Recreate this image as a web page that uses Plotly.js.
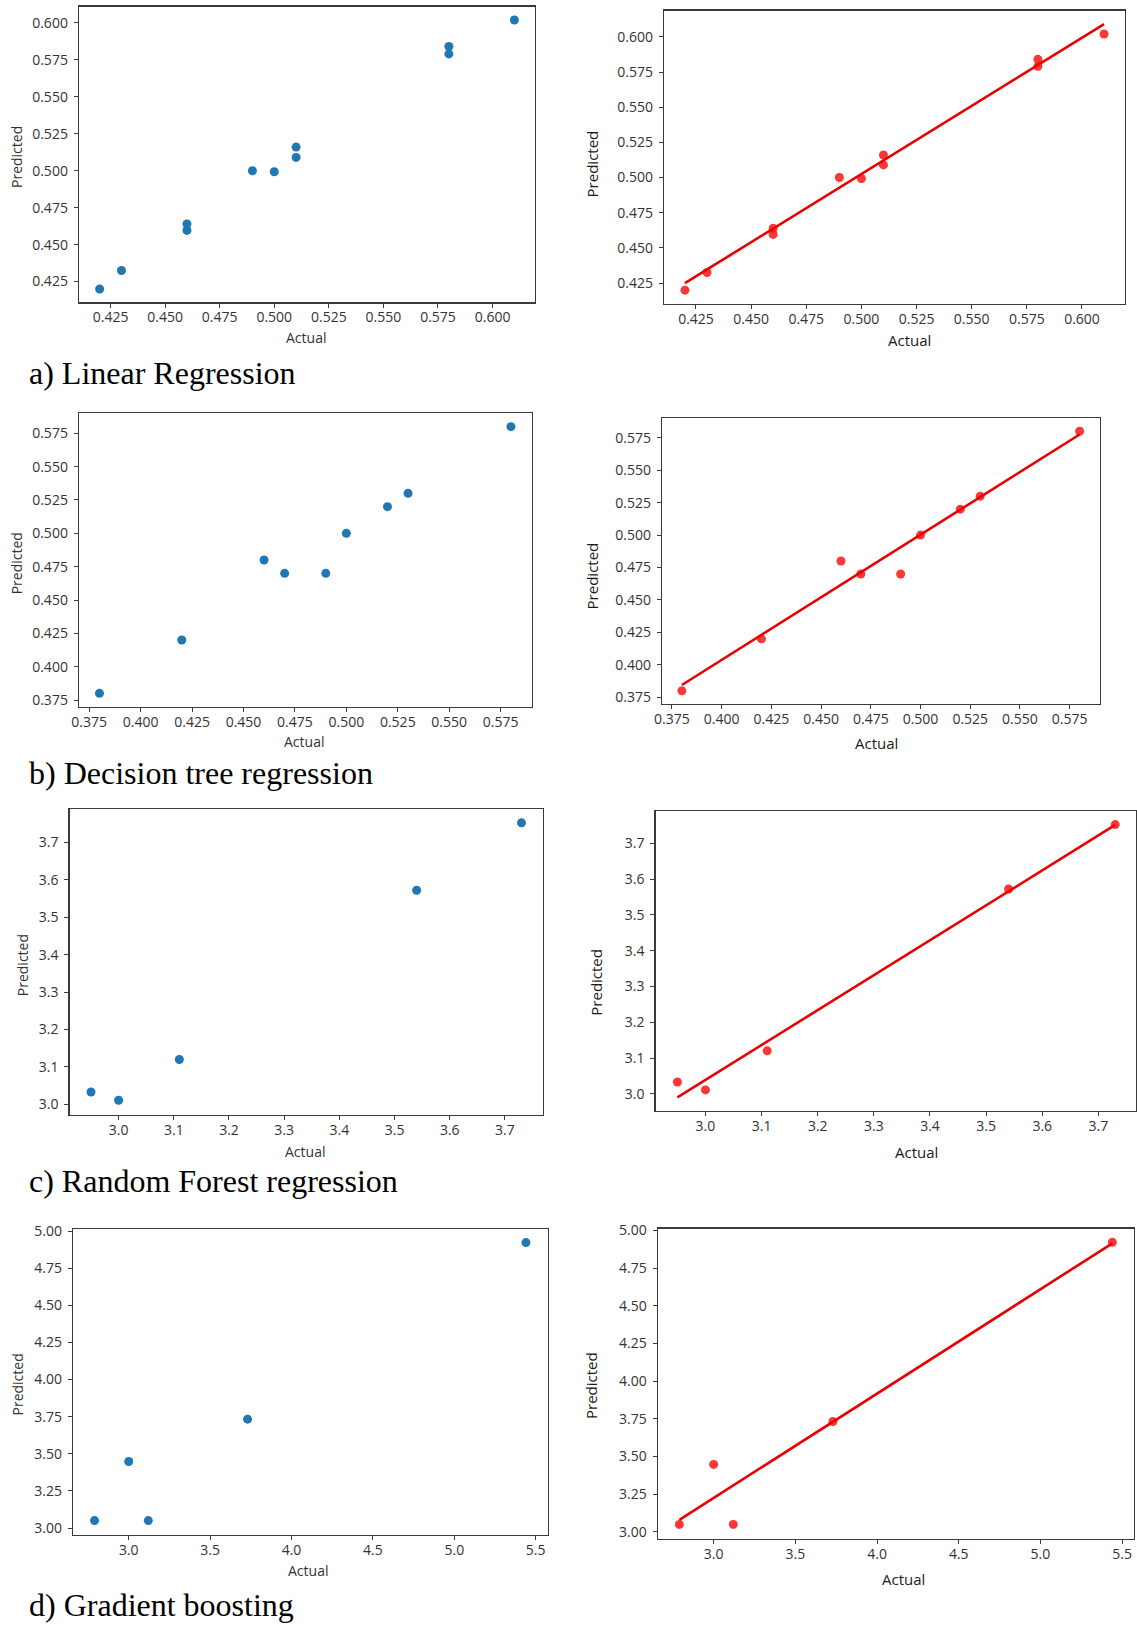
<!DOCTYPE html>
<html>
<head>
<meta charset="utf-8">
<script src="https://cdn.plot.ly/plotly-3.0.1.min.js"></script>
<style>
  html, body { margin: 0; padding: 0; background: #ffffff; }
  #chart { width: 1137px; height: 1627px; }
</style>
</head>
<body>
<div id="chart"></div>
<script>
// ---------------- DATA ----------------
const captions = ["a) Linear Regression", "b) Decision tree regression", "c) Random Forest regression", "d) Gradient boosting"];
const xLabel = "Actual";
const yLabel = "Predicted";

// a) Linear Regression
const lrActual = [0.42, 0.43, 0.46, 0.46, 0.49, 0.50, 0.51, 0.51, 0.58, 0.58, 0.61];
const lrPred   = [0.420, 0.4325, 0.464, 0.4596, 0.500, 0.4993, 0.516, 0.509, 0.584, 0.579, 0.602];
const lrFitX   = [0.42, 0.61];
const lrFitY   = [0.425, 0.609];

// b) Decision tree regression
const dtActual = [0.38, 0.42, 0.46, 0.47, 0.49, 0.50, 0.52, 0.53, 0.58];
const dtPred   = [0.38, 0.42, 0.48, 0.47, 0.47, 0.50, 0.52, 0.53, 0.58];
const dtFitX   = [0.38, 0.58];
const dtFitY   = [0.3845, 0.5775];

// c) Random Forest regression
const rfActual = [2.95, 3.00, 3.11, 3.54, 3.73];
const rfPred   = [3.033, 3.011, 3.12, 3.572, 3.752];
const rfFitX   = [2.95, 3.73];
const rfFitY   = [2.99, 3.751];

// d) Gradient boosting
const gbActual = [2.79, 3.00, 3.12, 3.73, 5.44];
const gbPred   = [3.05, 3.448, 3.05, 3.733, 4.922];
const gbFitX   = [2.79, 5.44];
const gbFitY   = [3.08, 4.915];

// ---------------- LAYOUT / STYLE ----------------
const W = 1137, H = 1627;
const BLUE = "#1f77b4";
const RED_PT = "rgba(250,20,20,0.85)";
const RED_LN = "rgb(235,0,0)";
const TICK_FONT = {family: "Open Sans, DejaVu Sans, sans-serif", size: 14, color: "#333333"};
const LAB_FONT_L = {family: "Open Sans, DejaVu Sans, sans-serif", size: 14, color: "#333333"};
const LAB_FONT_R = {family: "Open Sans, DejaVu Sans, sans-serif", size: 15, color: "#1a1a1a"};
const CAP_FONT = {family: "Liberation Serif, Times New Roman, serif", size: 32, color: "#000000"};

function xd(a, b) { return [a / W, b / W]; }
function yd(top, bottom) { return [1 - bottom / H, 1 - top / H]; }

// panel geometry (pixels) and ranges
const panels = [
  {actual: lrActual, pred: lrPred, box: [78.9, 535.1, 6.5, 302.4], xr: [0.4105, 0.6195], yr: [0.4109, 0.6111], tick0: 0.4, dt: 0.025, fmt: ".3f", yfmt: ".3f", ydt: 0.025, ytick0: 0.4,
   ylab: [16, 157], xlab: [305.7, 337.3], fit: false},
  {actual: lrActual, pred: lrPred, fitX: lrFitX, fitY: lrFitY, box: [664, 1125, 10.5, 303.5], xr: [0.4105, 0.6195], yr: [0.4105, 0.6187], tick0: 0.4, dt: 0.025, fmt: ".3f", yfmt: ".3f", ydt: 0.025, ytick0: 0.4,
   ylab: [592.4, 164], xlab: [909.4, 340], fit: true},
  {actual: dtActual, pred: dtPred, box: [78.9, 531.5, 413.3, 706.7], xr: [0.37, 0.59], yr: [0.37, 0.59], tick0: 0.375, dt: 0.025, fmt: ".3f", yfmt: ".3f", ydt: 0.025, ytick0: 0.375,
   ylab: [16, 563.3], xlab: [304, 741.7], fit: false},
  {actual: dtActual, pred: dtPred, fitX: dtFitX, fitY: dtFitY, box: [662, 1099.5, 418.3, 703.8], xr: [0.37, 0.59], yr: [0.37, 0.59], tick0: 0.375, dt: 0.025, fmt: ".3f", yfmt: ".3f", ydt: 0.025, ytick0: 0.375,
   ylab: [592.4, 576], xlab: [876.9, 743.3], fit: true},
  {actual: rfActual, pred: rfPred, box: [69.5, 543, 809, 1114.5], xr: [2.911, 3.769], yr: [2.973, 3.789], tick0: 3.0, dt: 0.1, fmt: ".1f", yfmt: ".1f", ydt: 0.1, ytick0: 3.0,
   ylab: [22.2, 965], xlab: [305, 1151], fit: false},
  {actual: rfActual, pred: rfPred, fitX: rfFitX, fitY: rfFitY, box: [655.5, 1136, 811, 1111], xr: [2.911, 3.767], yr: [2.952, 3.790], tick0: 3.0, dt: 0.1, fmt: ".1f", yfmt: ".1f", ydt: 0.1, ytick0: 3.0,
   ylab: [596, 982.7], xlab: [916.6, 1152.3], fit: true},
  {actual: gbActual, pred: gbPred, box: [73, 547.5, 1229, 1534.5], xr: [2.6575, 5.5725], yr: [2.9565, 5.0135], tick0: 3.0, dt: 0.5, fmt: ".1f", yfmt: ".2f", ydt: 0.25, ytick0: 3.0,
   ylab: [17.2, 1384.3], xlab: [307.5, 1570.5], fit: false},
  {actual: gbActual, pred: gbPred, fitX: gbFitX, fitY: gbFitY, box: [657.7, 1134, 1228.5, 1538.5], xr: [2.6575, 5.5725], yr: [2.9565, 5.0135], tick0: 3.0, dt: 0.5, fmt: ".1f", yfmt: ".2f", ydt: 0.25, ytick0: 3.0,
   ylab: [591, 1386], xlab: [903.2, 1578.7], fit: true}
];

const captionPos = [[27, 373], [27, 773], [27, 1181], [27, 1605]];

const traces = [];
const layout = {
  width: W, height: H,
  margin: {l: 0, r: 0, t: 0, b: 0, pad: 0},
  paper_bgcolor: "#ffffff", plot_bgcolor: "#ffffff",
  showlegend: false,
  annotations: []
};

panels.forEach((p, i) => {
  const n = i + 1;
  const xa = n === 1 ? "x" : "x" + n;
  const ya = n === 1 ? "y" : "y" + n;
  const xkey = n === 1 ? "xaxis" : "xaxis" + n;
  const ykey = n === 1 ? "yaxis" : "yaxis" + n;

  traces.push({
    type: "scatter", mode: "markers", x: p.actual, y: p.pred, xaxis: xa, yaxis: ya,
    marker: {size: 9, color: p.fit ? RED_PT : BLUE, line: {width: 0}},
    cliponaxis: false, hoverinfo: "skip"
  });
  if (p.fit) {
    traces.push({
      type: "scatter", mode: "lines", x: p.fitX, y: p.fitY, xaxis: xa, yaxis: ya,
      line: {color: RED_LN, width: 2.6}, hoverinfo: "skip"
    });
  }

  const common = {
    showgrid: false, zeroline: false, showline: true, mirror: true,
    linecolor: "#3a3a3a", linewidth: 1.2,
    ticks: "outside", ticklen: 4, tickwidth: 1, tickcolor: "#3a3a3a",
    tickfont: TICK_FONT, fixedrange: true
  };
  layout[xkey] = Object.assign({}, common, {
    domain: xd(p.box[0], p.box[1]), range: p.xr, anchor: ya,
    tickmode: "linear", tick0: p.tick0, dtick: p.dt, tickformat: p.fmt,
    ticklabelstandoff: -2
  });
  layout[ykey] = Object.assign({}, common, {
    domain: yd(p.box[2], p.box[3]), range: p.yr, anchor: xa,
    tickmode: "linear", tick0: p.ytick0, dtick: p.ydt, tickformat: p.yfmt,
    ticklabelstandoff: 3
  });

  const lf = p.fit ? LAB_FONT_R : LAB_FONT_L;
  layout.annotations.push({
    text: yLabel, xref: "paper", yref: "paper",
    x: p.ylab[0] / W, y: 1 - p.ylab[1] / H, xanchor: "center", yanchor: "middle",
    textangle: -90, showarrow: false, font: lf
  });
  layout.annotations.push({
    text: xLabel, xref: "paper", yref: "paper",
    x: p.xlab[0] / W, y: 1 - p.xlab[1] / H, xanchor: "center", yanchor: "middle",
    showarrow: false, font: lf
  });
});

captions.forEach((c, i) => {
  layout.annotations.push({
    text: c, xref: "paper", yref: "paper",
    x: captionPos[i][0] / W, y: 1 - captionPos[i][1] / H, xanchor: "left", yanchor: "middle",
    showarrow: false, font: CAP_FONT
  });
});

Plotly.newPlot("chart", traces, layout, {staticPlot: true, displayModeBar: false});
</script>
</body>
</html>
